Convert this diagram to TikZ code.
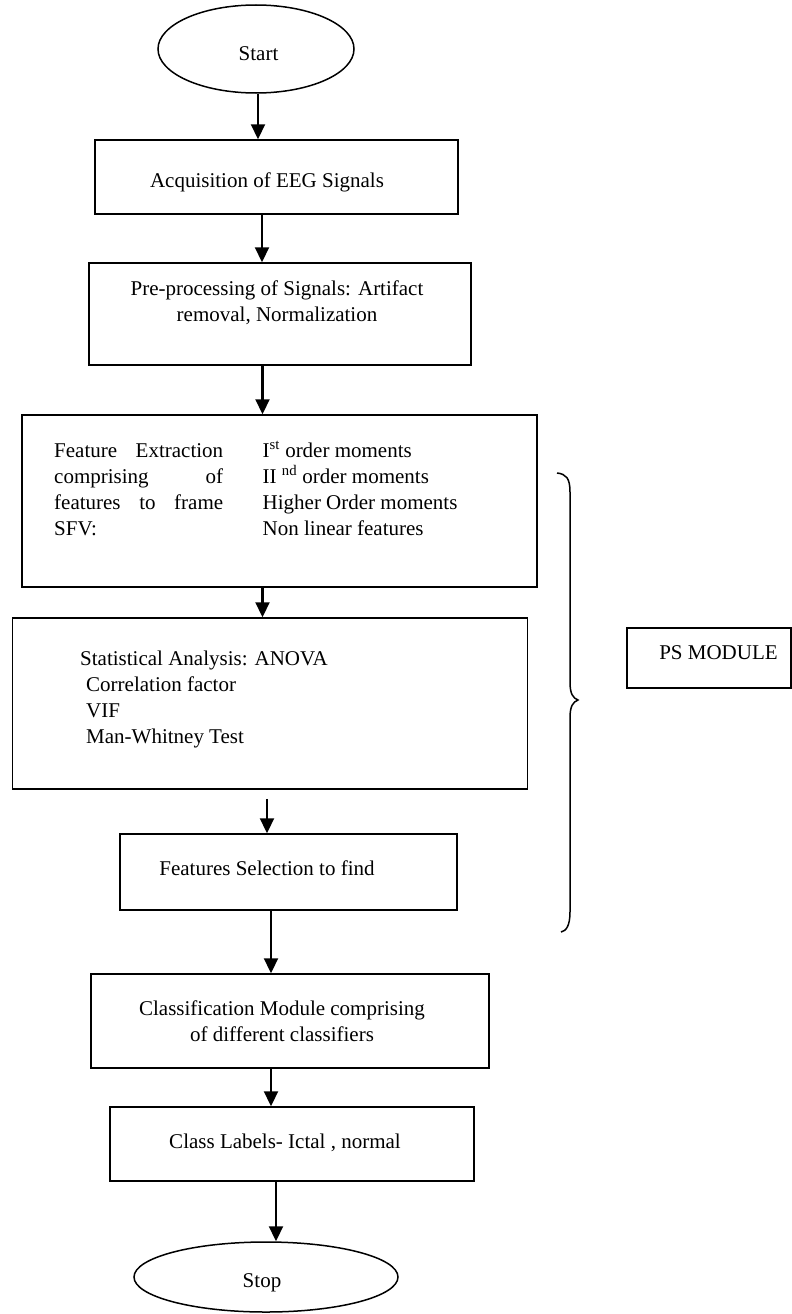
\documentclass[tikz,border=0pt]{standalone}
\usepackage{fontspec}
\setmainfont{Liberation Serif}
\usetikzlibrary{arrows.meta,shapes.geometric}
\newcommand\mytop[2]{\parbox[t]{#1}{#2}}
\begin{document}
\begin{tikzpicture}[x=1pt,y=-1pt,
  box/.style={draw, line width=1.5pt, rectangle, inner sep=0pt},
  oval/.style={draw, line width=1.5pt, ellipse, inner sep=0pt},
  txt/.style={inner sep=0pt, anchor=base, font=\fontsize{21}{26}\selectfont},
  arr/.style={line width=2.2pt, -{Triangle[length=15pt,width=14pt]}}]
\useasboundingbox (0,0) rectangle (792,1314);

% shapes
\node[oval, minimum width=196pt, minimum height=88pt] (start) at (256,49) {};
\node[box, minimum width=363pt, minimum height=74pt] (acq) at (276.5,177) {};
\node[box, minimum width=382pt, minimum height=102pt] (pre) at (280,314) {};
\node[box, minimum width=515pt, minimum height=172pt] (feat) at (279.5,501) {};
\node[box, minimum width=515pt, minimum height=171pt] (stat) at (270,703.5) {};
\node[box, minimum width=337pt, minimum height=76pt] (fs) at (288.5,872) {};
\node[box, minimum width=398pt, minimum height=94pt] (cls) at (290,1021) {};
\node[box, minimum width=364pt, minimum height=74pt] (lab) at (292,1144) {};
\node[box, minimum width=164pt, minimum height=60pt] (ps) at (709,658) {};
\node[oval, minimum width=264pt, minimum height=70pt] (stop) at (266,1277) {};

% texts
\node[txt] (starttxt) at (258.5,61) {Start};
\node[txt] (acqtxt) at (267,187) {Acquisition of EEG Signals};
\node[txt] (pretxt) at (277,295) {\mytop{380pt}{\centering Pre-processing of Signals: Artifact\\removal, Normalization}};
\node[txt, anchor=base west] (featL) at (54,457) {\mytop{169pt}{\makebox[169pt][s]{Feature Extraction}\\\makebox[169pt][s]{comprising of}\\\makebox[169pt][s]{features to frame}\\SFV:}};
\node[txt, anchor=base west] (featR) at (262.5,457) {\mytop{260pt}{\raggedright I\textsuperscript{st} order moments\\II \textsuperscript{nd} order moments\\Higher Order moments\\Non linear features}};
\node[txt, anchor=base west] (stattxt) at (80,665) {\mytop{400pt}{\raggedright Statistical Analysis: ANOVA\\\hspace*{6pt}Correlation factor\\\hspace*{6pt}VIF\\\hspace*{6pt}Man-Whitney Test}};
\node[txt] (fstxt) at (267,875) {Features Selection to find};
\node[txt] (clstxt) at (282,1015) {\mytop{380pt}{\centering Classification Module comprising\\of different classifiers}};
\node[txt] (labtxt) at (285,1148) {Class Labels- Ictal , normal};
\node[txt] (pstxt) at (718.5,659) {PS MODULE};
\node[txt] (stoptxt) at (262,1287) {Stop};

% connectors
\draw[arr] (start.south -| 258,0) -- (acq.north -| 258,0);
\draw[arr] (acq.south -| 262,0) -- (pre.north -| 262,0);
\draw[arr] (pre.south -| 262.5,0) -- (feat.north -| 262.5,0);
\draw[arr] (feat.south -| 262.5,0) -- (stat.north -| 262.5,0);
\draw[arr, shorten <=9pt] (stat.south -| 267,0) -- (fs.north -| 267,0);
\draw[arr] (fs.south -| 271,0) -- (cls.north -| 271,0);
\draw[arr] (cls.south -| 271,0) -- (lab.north -| 271,0);
\draw[arr] (lab.south -| 276,0) -- (stop.north -| 276,0);

% brace
\draw[line width=1.5pt] (557,473) .. controls (566,474) and (570,478) .. (570,492)
  -- (570,682) .. controls (570,694) and (573,698) .. (578,700)
  .. controls (573,702) and (570,706) .. (570,718)
  -- (570,912) .. controls (570,926) and (566,931) .. (561,932);
\end{tikzpicture}
\end{document}
